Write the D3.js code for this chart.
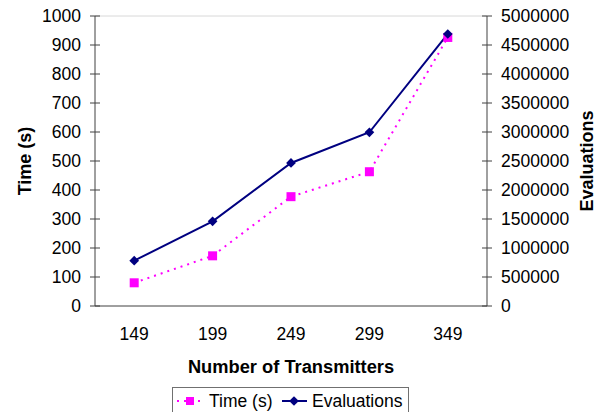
<!DOCTYPE html>
<html>
<head>
<meta charset="utf-8">
<script src="https://cdn.jsdelivr.net/npm/d3@7"></script>
<style>
  body { margin: 0; background: #fff; }
  svg text { font-family: "Liberation Sans", Arial, sans-serif; fill: #000; }
</style>
</head>
<body>
<svg id="chart" width="596" height="412"></svg>
<script>
'use strict';

var categories = ['149', '199', '249', '299', '349'];
var timeValues = [80, 173, 377, 463, 926];
var evalValues = [781000, 1460000, 2466000, 2995000, 4690000];
var leftTicks = [0, 100, 200, 300, 400, 500, 600, 700, 800, 900, 1000];
var rightTicks = [0, 500000, 1000000, 1500000, 2000000, 2500000, 3000000, 3500000, 4000000, 4500000, 5000000];

(function () {
  var left = 95, right = 487, top = 16, bottom = 306;
  var svg = d3.select('#chart');

  var x = d3.scaleBand().domain(categories).range([left, right]);
  var yL = d3.scaleLinear().domain([0, 1000]).range([bottom, top]);
  var yR = d3.scaleLinear().domain([0, 5000000]).range([bottom, top]);
  var cx = function (d, i) { return x(categories[i]) + x.bandwidth() / 2; };

  // top gridline
  svg.append('line')
      .attr('x1', left).attr('x2', right)
      .attr('y1', yL(1000)).attr('y2', yL(1000))
      .attr('stroke', '#d8d8d8').attr('stroke-width', 1);

  // left axis
  var gL = svg.append('g');
  gL.append('line').attr('x1', left).attr('x2', left).attr('y1', top).attr('y2', bottom)
      .attr('stroke', '#404040');
  gL.selectAll('.tk').data(leftTicks).enter().append('line')
      .attr('x1', left - 5).attr('x2', left + 5)
      .attr('y1', function (d) { return yL(d); }).attr('y2', function (d) { return yL(d); })
      .attr('stroke', '#404040');
  gL.selectAll('.lb').data(leftTicks).enter().append('text')
      .attr('x', 81).attr('y', function (d) { return yL(d); })
      .attr('dy', '0.36em').attr('text-anchor', 'end')
      .style('font-size', '17.5px').text(function (d) { return d; });

  // right axis
  var gR = svg.append('g');
  gR.append('line').attr('x1', right).attr('x2', right).attr('y1', top).attr('y2', bottom)
      .attr('stroke', '#808080').attr('stroke-width', 1.5);
  gR.selectAll('.tk').data(rightTicks).enter().append('line')
      .attr('x1', right - 5).attr('x2', right + 5)
      .attr('y1', function (d) { return yR(d); }).attr('y2', function (d) { return yR(d); })
      .attr('stroke', '#404040');
  gR.selectAll('.lb').data(rightTicks).enter().append('text')
      .attr('x', 501).attr('y', function (d) { return yR(d); })
      .attr('dy', '0.36em').attr('text-anchor', 'start')
      .style('font-size', '17.5px').text(function (d) { return d; });

  // bottom axis
  svg.append('line').attr('x1', left).attr('x2', right).attr('y1', bottom).attr('y2', bottom)
      .attr('stroke', '#404040');
  svg.selectAll('.xl').data(categories).enter().append('text')
      .attr('x', function (d) { return x(d) + x.bandwidth() / 2; })
      .attr('y', 334).attr('dy', '0.36em').attr('text-anchor', 'middle')
      .style('font-size', '17.5px').text(function (d) { return d; });

  // titles
  svg.append('text').attr('transform', 'translate(' + 25 + ',' + ((top + bottom) / 2) + ') rotate(-90)')
      .attr('text-anchor', 'middle').attr('dy', '0.36em')
      .style('font-size', '18px').style('font-weight', 'bold').text('Time (s)');
  svg.append('text').attr('transform', 'translate(' + 587 + ',' + ((top + bottom) / 2) + ') rotate(-90)')
      .attr('text-anchor', 'middle').attr('dy', '0.36em')
      .style('font-size', '18px').style('font-weight', 'bold').text('Evaluations');
  svg.append('text').attr('x', (left + right) / 2).attr('y', 366).attr('dy', '0.36em')
      .attr('text-anchor', 'middle')
      .style('font-size', '18.3px').style('font-weight', 'bold').text('Number of Transmitters');

  // time series (magenta dotted)
  var lineL = d3.line().x(cx).y(function (d) { return yL(d); });
  svg.append('path').datum(timeValues).attr('d', lineL)
      .attr('fill', 'none').attr('stroke', '#ff00ff').attr('stroke-width', 2)
      .attr('stroke-dasharray', '2,5');

  // evaluations series (navy)
  var lineR = d3.line().x(cx).y(function (d) { return yR(d); });
  svg.append('path').datum(evalValues).attr('d', lineR)
      .attr('fill', 'none').attr('stroke', '#000080').attr('stroke-width', 2);

  svg.selectAll('.sq').data(timeValues).enter().append('rect')
      .attr('x', function (d, i) { return cx(d, i) - 4.5; })
      .attr('y', function (d) { return yL(d) - 4.5; })
      .attr('width', 9).attr('height', 9).attr('fill', '#ff00ff');

  var diamond = d3.symbol().type(d3.symbolDiamond2).size(60);
  svg.selectAll('.dm').data(evalValues).enter().append('path')
      .attr('d', diamond)
      .attr('transform', function (d, i) { return 'translate(' + cx(d, i) + ',' + yR(d) + ')'; })
      .attr('fill', '#000080');

  // legend
  var lg = svg.append('g');
  lg.append('rect').attr('x', 172.5).attr('y', 387.5).attr('width', 236).attr('height', 30)
      .attr('fill', '#fff').attr('stroke', '#707070');
  lg.append('line').attr('x1', 177).attr('x2', 203).attr('y1', 401).attr('y2', 401)
      .attr('stroke', '#ff00ff').attr('stroke-width', 2).attr('stroke-dasharray', '2,5');
  lg.append('rect').attr('x', 186).attr('y', 397).attr('width', 8).attr('height', 8).attr('fill', '#ff00ff');
  lg.append('text').attr('x', 209).attr('y', 401).attr('dy', '0.36em')
      .style('font-size', '17.5px').text('Time (s)');
  lg.append('line').attr('x1', 282).attr('x2', 307).attr('y1', 401).attr('y2', 401)
      .attr('stroke', '#000080').attr('stroke-width', 2);
  lg.append('path').attr('d', diamond).attr('transform', 'translate(294,401)').attr('fill', '#000080');
  lg.append('text').attr('x', 312).attr('y', 401).attr('dy', '0.36em')
      .style('font-size', '17.5px').text('Evaluations');
})();
</script>
</body>
</html>
